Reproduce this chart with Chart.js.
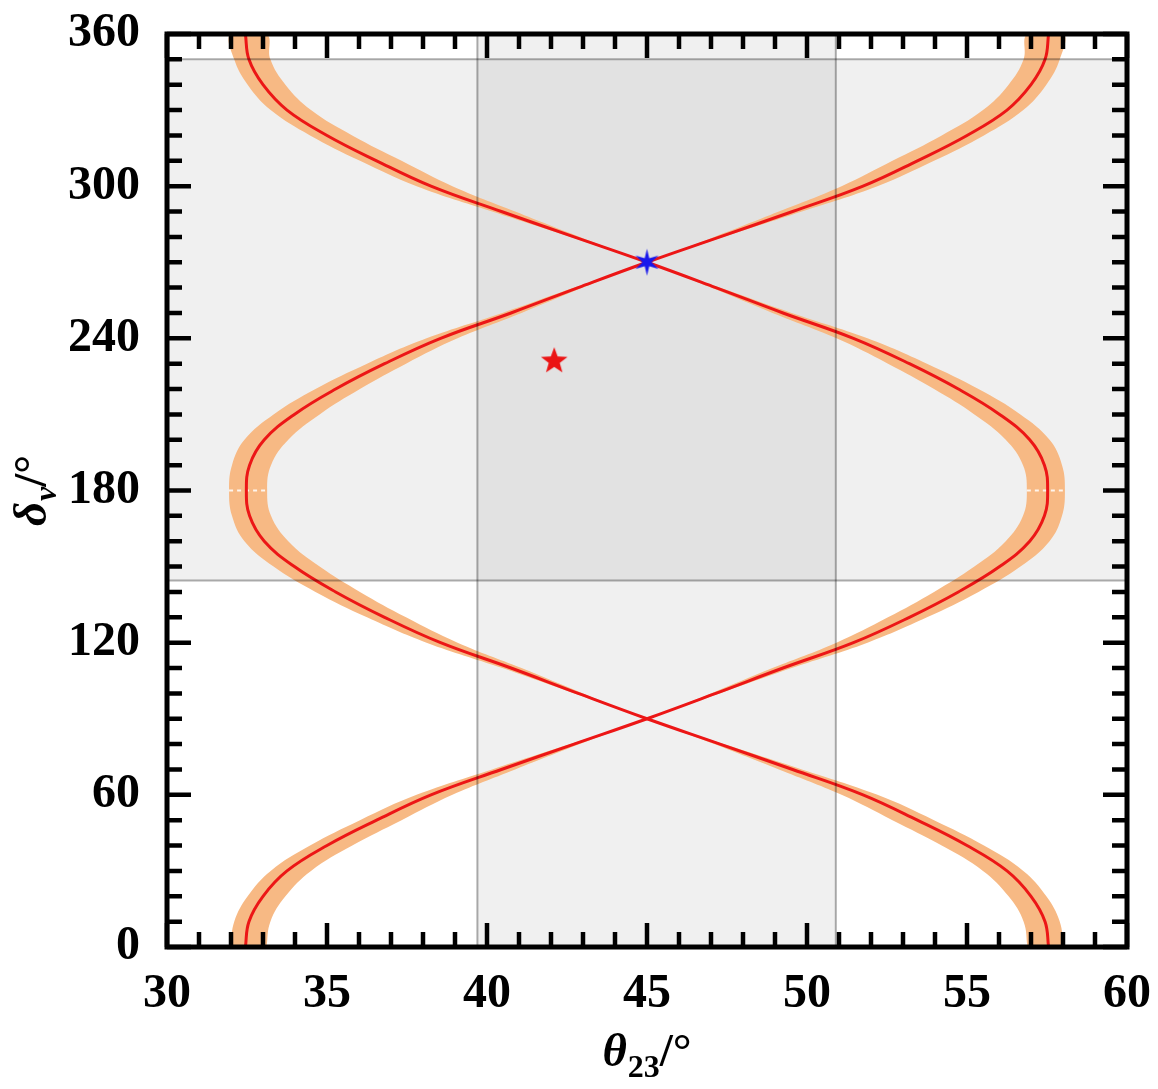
<!DOCTYPE html>
<html>
<head>
<meta charset="utf-8">
<script src="https://cdn.jsdelivr.net/npm/chart.js@4.4.1/dist/chart.umd.min.js"></script>
<style>
    html, body { margin: 0; padding: 0; background: #fff; }
    #wrap { width: 1158px; height: 1089px; }
</style>
</head>
<body>
<div id="wrap"><canvas id="myChart"></canvas></div>
<script>
// delta_nu grid (degrees) and the two solution curves theta23(delta)
const delta = [0, 10, 20, 30, 40, 50, 60, 70, 80, 90, 100, 110, 120, 130, 140, 150, 160, 170, 180,
    190, 200, 210, 220, 230, 240, 250, 260, 270, 280, 290, 300, 310, 320, 330, 340, 350, 360];

const thetaA = [32.45, 32.56, 33.00, 33.75, 35.00, 36.55, 38.25, 40.45, 42.72, 45.00, 47.15, 49.25, 51.45, 53.20, 54.73, 56.02, 56.96, 57.42, 57.52,
    57.42, 56.96, 56.02, 54.73, 53.20, 51.45, 49.25, 47.15, 45.00, 42.72, 40.45, 38.25, 36.55, 35.00, 33.75, 33.00, 32.56, 32.45];

const thetaB = [57.55, 57.44, 57.00, 56.25, 55.00, 53.45, 51.75, 49.55, 47.28, 45.00, 42.85, 40.75, 38.55, 36.80, 35.27, 33.98, 33.04, 32.58, 32.48,
    32.58, 33.04, 33.98, 35.27, 36.80, 38.55, 40.75, 42.85, 45.00, 47.28, 49.55, 51.75, 53.45, 55.00, 56.25, 57.00, 57.44, 57.55];

// width of the orange band, to the left (minus) and right (plus) of each curve
const minusA = [0.46, 0.46, 0.48, 0.51, 0.53, 0.52, 0.45, 0.29, 0.12, 0.01, 0.15, 0.33, 0.53, 0.67, 0.76, 0.79, 0.75, 0.67, 0.65,
    0.67, 0.75, 0.79, 0.76, 0.67, 0.53, 0.33, 0.15, 0.01, 0.12, 0.29, 0.45, 0.52, 0.53, 0.51, 0.48, 0.46, 0.46];
const plusA = [0.66, 0.67, 0.70, 0.75, 0.79, 0.78, 0.67, 0.43, 0.18, 0.01, 0.12, 0.27, 0.44, 0.55, 0.63, 0.65, 0.62, 0.55, 0.54,
    0.55, 0.62, 0.65, 0.63, 0.55, 0.44, 0.27, 0.12, 0.01, 0.18, 0.43, 0.67, 0.78, 0.79, 0.75, 0.70, 0.67, 0.66];
const minusB = [0.66, 0.67, 0.70, 0.75, 0.79, 0.78, 0.67, 0.43, 0.18, 0.01, 0.12, 0.27, 0.44, 0.55, 0.63, 0.65, 0.62, 0.55, 0.54,
    0.55, 0.62, 0.65, 0.63, 0.55, 0.44, 0.27, 0.12, 0.01, 0.18, 0.43, 0.67, 0.78, 0.79, 0.75, 0.70, 0.67, 0.66];
const plusB = [0.46, 0.46, 0.48, 0.51, 0.53, 0.52, 0.45, 0.29, 0.12, 0.01, 0.15, 0.33, 0.53, 0.67, 0.76, 0.79, 0.75, 0.67, 0.65,
    0.67, 0.75, 0.79, 0.76, 0.67, 0.53, 0.33, 0.15, 0.01, 0.12, 0.29, 0.45, 0.52, 0.53, 0.51, 0.48, 0.46, 0.46];

// allowed ranges (gray bands)
const thetaRange = [39.7, 50.9];
const deltaRange = [144.5, 350];

// best fit points
const bestFit = [{ x: 42.1, y: 231 }];
const symPoint = [{ x: 45, y: 270 }];

// axes
const xMin = 30, xMax = 60, xMajor = 5, xMinor = 1;
const yMin = 0, yMax = 360, yMajor = 60, yMinor = 10;

const serif = '"Liberation Serif", "Times New Roman", serif';

function curvePoints(theta) {
    return delta.map((d, i) => ({ x: theta[i], y: d }));
}

function bandPoints(theta, minus, plus) {
    const lower = delta.map((d, i) => ({ x: theta[i] - minus[i], y: d }));
    const upper = delta.map((d, i) => ({ x: theta[i] + plus[i], y: d })).reverse();
    return lower.concat(upper);
}

function bandCut(theta, minus, plus, d) {
    const i = delta.indexOf(d);
    return [{ x: theta[i] - minus[i], y: d }, { x: theta[i] + plus[i], y: d }];
}

function starCanvas(points, rOut, rIn, color) {
    const size = Math.ceil(rOut * 2 + 4);
    const c = document.createElement('canvas');
    c.width = size;
    c.height = size;
    const g = c.getContext('2d');
    g.translate(size / 2, size / 2);
    g.beginPath();
    for (let k = 0; k < points * 2; k++) {
        const r = k % 2 === 0 ? rOut : rIn;
        const a = -Math.PI / 2 + k * Math.PI / points;
        g.lineTo(r * Math.cos(a), r * Math.sin(a));
    }
    g.closePath();
    g.fillStyle = color;
    g.fill();
    return c;
}

const redStar = starCanvas(5, 14, 5.8, 'rgb(235,20,20)');
const blueStar = starCanvas(6, 13.5, 4.6, 'rgb(25,25,235)');

const grayFill = 'rgba(0,0,0,0.058)';
const grayLine = 'rgba(0,0,0,0.32)';
const bandColor = 'rgb(247,185,132)';
const redLine = 'rgb(236,22,22)';

function rect(x0, x1, y0, y1) {
    return [{ x: x0, y: y0 }, { x: x1, y: y0 }, { x: x1, y: y1 }, { x: x0, y: y1 }];
}

function shape(data, color, order) {
    return { data: data, showLine: true, fill: 'shape', backgroundColor: color, borderWidth: 0,
        pointRadius: 0, tension: 0, order: order, clip: 0 };
}

function line(data, color, width, order, tension) {
    return { data: data, showLine: true, fill: false, borderColor: color, borderWidth: width,
        pointRadius: 0, tension: tension || 0, order: order, clip: 0 };
}

const datasets = [
    shape(rect(xMin, xMax, deltaRange[0], deltaRange[1]), grayFill, 20),
    shape(rect(thetaRange[0], thetaRange[1], yMin, yMax), grayFill, 19),
    Object.assign(shape(bandPoints(thetaA, minusA, plusA), bandColor, 15), { tension: 0.4 }),
    Object.assign(shape(bandPoints(thetaB, minusB, plusB), bandColor, 14), { tension: 0.4 }),
    Object.assign(line(bandCut(thetaA, minusA, plusA, 180), 'rgba(255,255,255,0.85)', 2, 13), { borderDash: [4, 4] }),
    Object.assign(line(bandCut(thetaB, minusB, plusB, 180), 'rgba(255,255,255,0.85)', 2, 13), { borderDash: [4, 4] }),
    line(curvePoints(thetaA), redLine, 3, 10, 0.4),
    line(curvePoints(thetaB), redLine, 3, 9, 0.4),
    line([{ x: xMin, y: deltaRange[0] }, { x: xMax, y: deltaRange[0] }], grayLine, 2, 5),
    line([{ x: xMin, y: deltaRange[1] }, { x: xMax, y: deltaRange[1] }], grayLine, 2, 5),
    line([{ x: thetaRange[0], y: yMin }, { x: thetaRange[0], y: yMax }], grayLine, 2, 5),
    line([{ x: thetaRange[1], y: yMin }, { x: thetaRange[1], y: yMax }], grayLine, 2, 5),
    { data: bestFit, pointStyle: redStar, pointRadius: 14, order: 1, clip: 0 },
    { data: symPoint, pointStyle: blueStar, pointRadius: 13, order: 0, clip: 0 }
];

function drawParts(ctx, parts, cx, baseY) {
    let total = 0;
    parts.forEach(p => { ctx.font = p.font; p.w = ctx.measureText(p.text).width; total += p.w + (p.gap || 0); });
    let x = cx - total / 2;
    parts.forEach(p => {
        ctx.font = p.font;
        ctx.fillText(p.text, x, baseY + (p.dy || 0));
        x += p.w + (p.gap || 0);
    });
}

const frameAndTicks = {
    id: 'frameAndTicks',
    afterDraw(chart) {
        const { ctx, chartArea: a, scales: { x, y } } = chart;
        ctx.save();
        ctx.strokeStyle = '#000';
        ctx.lineWidth = 4.5;
        ctx.beginPath();
        for (let v = xMin; v <= xMax; v += xMinor) {
            const px = x.getPixelForValue(v);
            const len = (v - xMin) % xMajor === 0 ? 24 : 15;
            ctx.moveTo(px, a.bottom); ctx.lineTo(px, a.bottom - len);
            ctx.moveTo(px, a.top); ctx.lineTo(px, a.top + len);
        }
        for (let v = yMin; v <= yMax; v += yMinor) {
            const py = y.getPixelForValue(v);
            const len = (v - yMin) % yMajor === 0 ? 24 : 15;
            ctx.moveTo(a.left, py); ctx.lineTo(a.left + len, py);
            ctx.moveTo(a.right, py); ctx.lineTo(a.right - len, py);
        }
        ctx.stroke();
        ctx.lineWidth = 5;
        ctx.strokeRect(a.left, a.top, a.right - a.left, a.bottom - a.top);

        // axis titles with subscripts
        ctx.fillStyle = '#000';
        ctx.textBaseline = 'alphabetic';
        drawParts(ctx, [
            { text: 'θ', font: 'italic bold 47px ' + serif, gap: 1 },
            { text: '23', font: 'bold 32px ' + serif, dy: 11 },
            { text: '/°', font: 'bold 47px ' + serif }
        ], (a.left + a.right) / 2, 1066);

        ctx.translate(46, (a.top + a.bottom) / 2);
        ctx.rotate(-Math.PI / 2);
        drawParts(ctx, [
            { text: 'δ', font: 'italic bold 47px ' + serif, gap: 1 },
            { text: 'ν', font: 'italic bold 32px ' + serif, dy: 10 },
            { text: '/°', font: 'bold 47px ' + serif }
        ], 0, 0);
        ctx.restore();
    }
};

const ctx = document.getElementById('myChart').getContext('2d');
const myChart = new Chart(ctx, {
    type: 'scatter',
    data: { datasets: datasets },
    options: {
        responsive: true,
        maintainAspectRatio: false,
        devicePixelRatio: 1,
        animation: false,
        layout: { padding: { top: 34, right: 31, left: 0, bottom: 0 } },
        plugins: { legend: { display: false }, tooltip: { enabled: false } },
        scales: {
            x: {
                type: 'linear', min: xMin, max: xMax,
                afterFit: s => { s.height = 142; s.paddingLeft = 0; s.paddingRight = 0; },
                grid: { display: false, drawTicks: false },
                border: { display: false },
                ticks: { stepSize: xMajor, padding: 19, color: '#000',
                    font: { family: serif, weight: 'bold', size: 48 } }
            },
            y: {
                type: 'linear', min: yMin, max: yMax,
                afterFit: s => { s.width = 167; s.paddingTop = 0; s.paddingBottom = 0; },
                grid: { display: false, drawTicks: false },
                border: { display: false },
                ticks: { stepSize: yMajor, padding: 27, color: '#000',
                    font: { family: serif, weight: 'bold', size: 48 } }
            }
        }
    },
    plugins: [frameAndTicks]
});
</script>
</body>
</html>
